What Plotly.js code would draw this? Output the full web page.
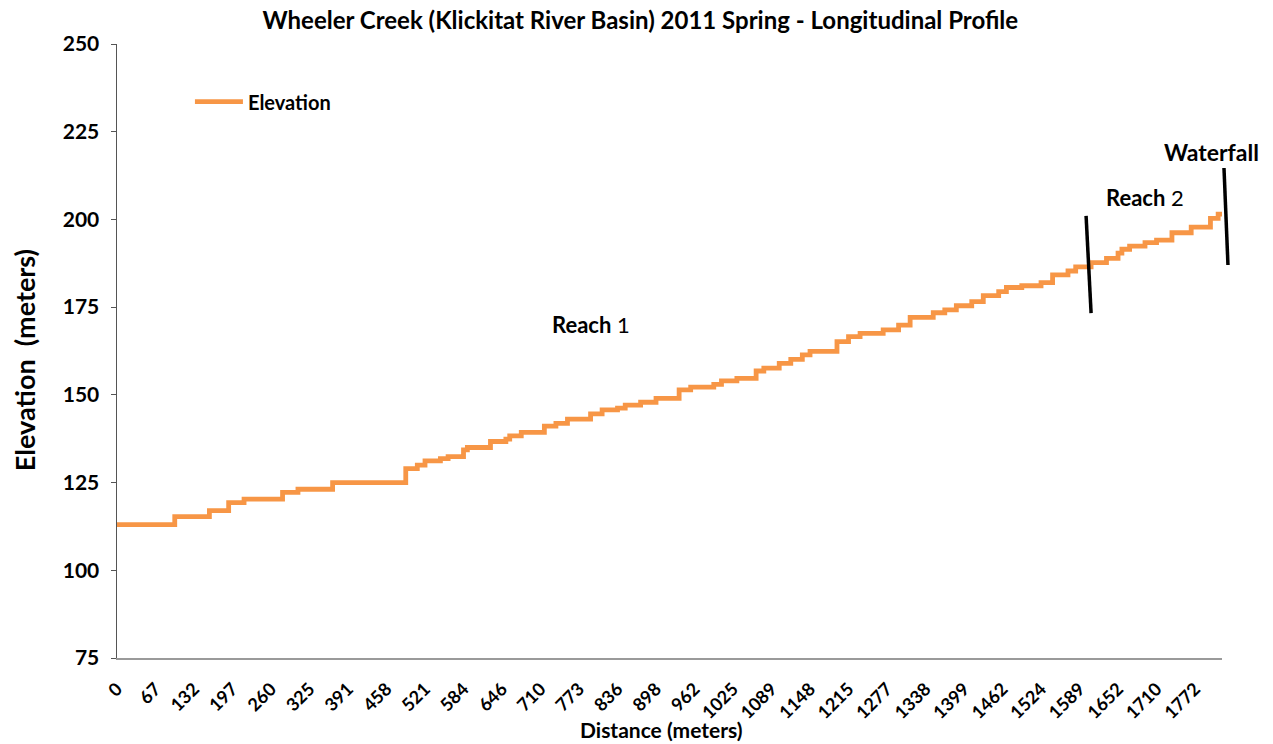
<!DOCTYPE html>
<html>
<head>
<meta charset="utf-8">
<script src="https://cdn.plot.ly/plotly-3.0.1.min.js"></script>
<style>html,body{margin:0;padding:0;background:#fff;}#chart{width:1273px;height:744px;}</style>
</head>
<body>
<div id="chart"></div>
<script>
// Distance labels shown every 10 survey stations
const distanceLabels = [0,67,132,197,260,325,391,458,521,584,646,710,773,836,898,962,1025,1089,1148,1215,1277,1338,1399,1462,1524,1589,1652,1710,1772];
const stationsPerLabel = 10;

// Longitudinal profile: survey station where each elevation step begins, and elevation (m)
const stepStation = [0,15,24,29,33,43,47,56,75,78,80,84,86,90,91,97,101,102,105,111,114,117,123,126,130,132,136,140,146,149,155,157,161,166,168,172,175,178,180,187,190,193,199,203,206,212,215,218,222,225,229,231,235,240,243,247,249,253,257,260,261,263,267,270,274,279,284,286,287];
const elevation = [113,115.3,117,119.3,120.3,122.2,123.1,125,129,130,131.2,131.8,132.4,134.3,135,136.7,137.4,138.3,139.3,141.1,141.9,143.1,144.6,145.7,146.2,147.1,147.9,149,151.4,152.2,153,154,154.7,156.8,157.6,159,160.1,161.4,162.4,165.2,166.6,167.5,168.5,169.9,172.1,173.4,174.2,175.4,176.6,178.3,179.4,180.6,181.1,182,184.2,185.3,186.5,187.7,188.9,190.4,191.5,192.4,193.4,194.1,196.2,197.8,200.3,201.5,201.5];

const tickVals = distanceLabels.map((d, i) => i * stationsPerLabel);
const tickText = distanceLabels.map(String);

const FONT = 'Lato, "Open Sans", sans-serif';

const trace = {
  x: stepStation,
  y: elevation,
  type: 'scatter',
  mode: 'lines',
  name: '<b>Elevation</b>',
  line: {color: '#F79646', width: 4.8, shape: 'hv'}
};

const layout = {
  width: 1273, height: 744,
  margin: {l: 117, r: 51, t: 44, b: 86},
  paper_bgcolor: '#fff', plot_bgcolor: '#fff',
  font: {family: FONT, color: '#000'},
  title: {text: '<b>Wheeler Creek (Klickitat River Basin) 2011 Spring - Longitudinal Profile</b>',
          font: {size: 24, family: FONT, color: '#000'}, x: 0.503, xanchor: 'center', y: 0.972, yanchor: 'middle'},
  showlegend: true,
  legend: {x: 0.066, y: 0.906, xanchor: 'left', yanchor: 'middle', bgcolor: 'rgba(0,0,0,0)',
           font: {size: 20, family: FONT, color: '#000'}, itemwidth: 48},
  xaxis: {
    range: [0, 287], tickmode: 'array', tickvals: tickVals, ticktext: tickText,
    tickangle: -45, tickfont: {size: 18, family: FONT, color: '#000', weight: 'bold'},
    ticklabelstandoff: 12,
    showgrid: false, zeroline: false, showline: true, linecolor: '#9a9a9a', linewidth: 1.5,
    ticks: '', fixedrange: true
  },
  yaxis: {
    range: [75, 250], dtick: 25, tick0: 75,
    tickfont: {size: 21, family: FONT, color: '#000', weight: 'bold'},
    showgrid: false, zeroline: false, showline: true, linecolor: '#555', linewidth: 1.5,
    ticks: 'outside', ticklen: 5, tickcolor: '#555', ticklabelstandoff: 7,
    fixedrange: true
  },
  annotations: [
    {xref: 'paper', yref: 'paper', x: 0.4932, y: -0.117, xanchor: 'center', yanchor: 'middle', showarrow: false,
     text: '<b>Distance (meters)</b>', font: {size: 21, family: FONT, color: '#000'}},
    {xref: 'paper', yref: 'paper', x: -0.0842, y: 0.485, xanchor: 'center', yanchor: 'middle', showarrow: false,
     textangle: -90, text: '<b>Elevation  (meters)</b>', font: {size: 27, family: FONT, color: '#000'}},
    {xref: 'x', yref: 'y', x: 123, y: 170, xanchor: 'center', showarrow: false, text: '<b>Reach</b> 1',
     font: {size: 22, family: FONT, color: '#000'}},
    {xref: 'x', yref: 'y', x: 267, y: 206.3, xanchor: 'center', showarrow: false, text: '<b>Reach</b> 2',
     font: {size: 22, family: FONT, color: '#000'}},
    {xref: 'paper', yref: 'y', x: 0.9909, y: 219.2, xanchor: 'center', showarrow: false, text: '<b>Waterfall</b>',
     font: {size: 23, family: FONT, color: '#000'}}
  ],
  shapes: [
    {type: 'line', xref: 'x', yref: 'y', x0: 251.7, y0: 201, x1: 253, y1: 173.3, line: {color: '#000', width: 3.5}},
    {type: 'line', xref: 'paper', yref: 'paper', x0: 1.0018, y0: 0.798, x1: 1.0054, y1: 0.640, line: {color: '#000', width: 3.5}}
  ]
};

Plotly.newPlot('chart', [trace], layout, {displayModeBar: false, staticPlot: true});
</script>
</body>
</html>
